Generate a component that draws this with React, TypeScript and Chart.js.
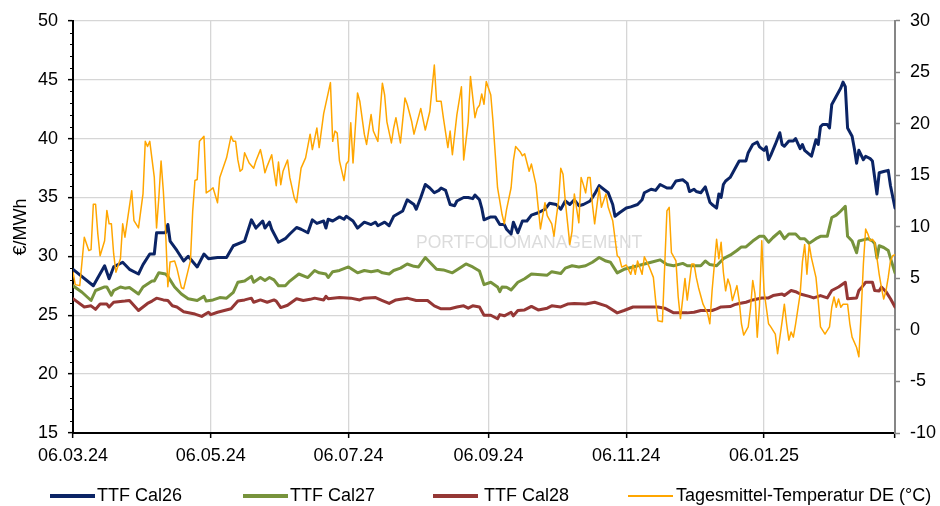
import React, { useEffect, useRef } from "react";
import { Chart, registerables } from "chart.js";

Chart.register(...registerables);

// x axis: day offset from 06.03.24
const xTickDays = [0, 61, 122, 184, 245, 306, 364];
const xTickLabels = ["06.03.24", "06.05.24", "06.07.24", "06.09.24", "06.11.24", "06.01.25", ""];

const seriesNames = ["TTF Cal26", "TTF Cal27", "TTF Cal28", "Tagesmittel-Temperatur DE (°C)"];

const cal26Days = [
  0, 9, 14, 16, 18, 22, 25, 29, 31, 34,
  36, 37, 41, 42, 43, 46, 49, 51, 55, 58,
  60, 64, 68, 71, 76, 79, 81, 84, 85, 87,
  88, 91, 94, 96, 99, 101, 104, 106, 108, 111,
  112, 113, 115, 118, 120, 121, 124, 126, 129, 132,
  134, 135, 138, 140, 142, 146, 148, 151, 152, 154,
  156, 158, 160, 162, 163, 165, 167, 169, 170, 173,
  175, 177, 178, 180, 181, 182, 185, 187, 189, 191,
  192, 194, 195, 197, 199, 201, 203, 206, 209, 211,
  214, 216, 218, 220, 222, 224, 226, 229, 231, 233,
  235, 237, 239, 240, 242, 245, 247, 250, 252, 253,
  256, 258, 260, 263, 265, 267, 270, 272, 273, 275,
  276, 278, 280, 282, 283, 285, 286, 287, 288, 289,
  291, 293, 295, 298, 299, 301, 303, 304, 306, 307,
  308, 309, 311, 313, 314, 315, 317, 319, 320, 322,
  323, 324, 327, 329, 330, 331, 332, 334, 335, 336,
  338, 340, 341, 342, 343, 345, 346, 347, 348, 350,
  351, 353, 354, 355, 356, 357, 359, 361, 362, 364,
];
const cal26Values = [
  28.9, 27.5, 29.2, 28.1, 29.1, 29.5, 28.9, 28.5, 29.3, 30.2,
  30.2, 32.0, 32.0, 32.7, 31.3, 30.5, 29.6, 30.0, 29.1, 30.2,
  29.8, 29.9, 29.9, 30.9, 31.3, 33.1, 32.4, 33.0, 32.4, 32.9,
  32.3, 31.2, 31.5, 31.9, 32.45, 32.3, 32.0, 33.1, 32.8, 33.0,
  32.4, 33.15, 33.0, 33.35, 33.15, 33.4, 33.0, 32.4, 32.9, 32.7,
  32.9, 32.6, 32.9, 32.6, 33.4, 33.85, 34.8, 34.4, 34.0, 35.0,
  36.1, 35.8, 35.4, 35.6, 35.8, 35.6, 34.4, 34.3, 34.7, 35.0,
  35.0, 34.9, 35.2, 34.8, 34.1, 33.1, 33.35, 33.35, 32.7, 32.7,
  32.3, 31.9, 32.9, 32.0, 33.0, 33.0, 33.5, 33.7, 34.0, 34.5,
  34.4, 34.0, 34.7, 34.4, 34.8, 34.3, 34.4, 34.7, 35.3, 36.0,
  35.7, 35.4, 34.4, 33.4, 33.7, 34.1, 34.2, 34.4, 34.8, 35.4,
  35.7, 35.6, 36.1, 35.8, 35.8, 36.4, 36.5, 36.2, 35.5, 35.7,
  35.5, 35.4, 35.9, 34.6, 34.4, 34.1, 35.3, 35.0, 36.1, 36.4,
  36.7, 37.4, 38.1, 38.1, 38.8, 39.5, 39.7, 39.3, 39.0, 39.3,
  38.2, 38.6, 39.5, 40.5, 39.5, 39.35, 39.8, 39.8, 40.0, 39.15,
  39.5, 39.0, 38.5, 39.9, 39.5, 41.0, 41.2, 41.2, 40.9, 42.9,
  43.6, 44.3, 44.8, 44.4, 40.9, 40.2, 39.15, 37.9, 39.0, 38.2,
  38.5, 38.3, 38.1, 36.7, 35.3, 37.1, 37.2, 37.3, 36.0, 34.1,
];

const cal27Days = [
  0, 4, 8, 10, 14, 15, 17, 18, 21, 23,
  25, 29, 31, 35, 36, 38, 41, 42, 45, 48,
  51, 55, 58, 59, 62, 65, 68, 71, 73, 76,
  79, 80, 83, 85, 87, 89, 91, 94, 96, 100,
  104, 107, 109, 112, 113, 115, 118, 122, 126, 129,
  132, 135, 137, 140, 142, 145, 148, 151, 153, 156,
  158, 161, 164, 168, 172, 174, 177, 180, 182, 185,
  188, 189, 190, 192, 194, 197, 200, 203, 210, 212,
  216, 218, 221, 224, 227, 230, 233, 236, 238, 241,
  244, 248, 253, 256, 260, 263, 266, 270, 272, 274,
  278, 280, 282, 285, 288, 291, 294, 296, 298, 301,
  304, 306, 308, 310, 313, 315, 317, 320, 322, 324,
  326, 329, 331, 334, 336, 338, 340, 342, 343, 345,
  347, 348, 350, 352, 354, 355, 356, 357, 359, 361,
  362, 364,
];
const cal27Values = [
  27.5, 26.95, 26.25, 27.1, 27.4, 27.4, 26.7, 27.1, 27.4, 27.3,
  27.35, 26.8, 27.4, 27.9, 27.9, 28.6, 28.5, 28.3, 27.4, 26.8,
  26.4, 26.25, 26.6, 26.2, 26.3, 26.5, 26.45, 26.95, 27.8, 27.9,
  28.3, 27.8, 28.2, 27.95, 28.2, 28.0, 27.5, 27.5, 27.9, 28.5,
  28.2, 28.8, 28.6, 28.5, 28.2, 28.7, 28.8, 29.1, 28.6, 28.8,
  28.7, 28.8, 28.6, 28.5, 28.8, 29.0, 29.35, 29.15, 29.1, 29.9,
  29.5, 28.9, 28.85, 28.6, 29.1, 29.35, 29.1, 28.75, 27.6, 27.8,
  27.4, 27.0, 27.4, 27.37, 27.15, 27.8, 28.1, 28.5, 28.4, 28.7,
  28.55, 29.0, 29.2, 29.1, 29.2, 29.5, 29.9, 29.6, 29.5, 28.6,
  28.9, 29.1, 29.35, 29.5, 29.7, 29.3, 29.2, 29.4, 29.2, 29.2,
  29.2, 29.6, 29.3, 29.2, 29.8, 30.1, 30.5, 30.8, 30.8, 31.3,
  31.7, 31.7, 31.2, 31.6, 32.1, 31.5, 31.9, 31.9, 31.5, 31.5,
  31.1, 31.5, 31.7, 31.7, 33.3, 33.5, 33.85, 34.25, 31.7, 31.3,
  30.3, 31.3, 31.4, 31.5, 31.3, 31.1, 29.85, 30.9, 30.75, 30.5,
  29.85, 28.6,
];

const cal28Days = [
  0, 5, 8, 10, 12, 15, 16, 18, 23, 25,
  29, 33, 35, 37, 40, 42, 44, 46, 49, 54,
  57, 60, 61, 64, 70, 73, 76, 79, 80, 83,
  86, 89, 90, 92, 95, 99, 102, 105, 107, 111,
  112, 113, 118, 123, 127, 129, 134, 137, 140, 143,
  148, 152, 157, 160, 163, 167, 170, 173, 175, 177,
  180, 182, 185, 188, 189, 191, 194, 195, 197, 200,
  203, 206, 210, 212, 216, 219, 222, 227, 231, 236,
  241, 244, 248, 253, 259, 262, 266, 272, 275, 278,
  283, 285, 287, 291, 293, 295, 298, 301, 305, 308,
  310, 314, 315, 318, 320, 322, 326, 328, 331, 334,
  336, 339, 342, 343, 347, 348, 349, 351, 354, 355,
  357, 358, 360, 362, 364,
];
const cal28Values = [
  26.4, 25.7, 25.8, 25.5, 25.95, 25.95, 25.7, 26.1, 26.2, 26.25,
  25.4, 26.0, 26.2, 26.45, 26.3, 26.25, 25.8, 25.7, 25.3, 25.1,
  24.9, 25.25, 25.05, 25.25, 25.55, 26.2, 26.3, 26.45, 26.1, 26.3,
  26.1, 26.3, 26.2, 25.65, 25.85, 26.4, 26.25, 26.35, 26.45, 26.3,
  26.6, 26.4, 26.5, 26.45, 26.3, 26.45, 26.5, 26.25, 26.0, 26.3,
  26.45, 26.25, 26.25, 25.8, 25.55, 25.55, 25.7, 25.8, 25.6, 25.8,
  25.7, 25.0, 25.0, 24.7, 25.05, 24.95, 25.25, 24.95, 25.4, 25.45,
  25.75, 25.45, 25.6, 25.8, 25.7, 25.95, 26.0, 25.95, 26.1, 25.8,
  25.2, 25.4, 25.7, 25.7, 25.7, 25.6, 25.2, 25.2, 25.25, 25.4,
  25.4, 25.54, 25.7, 25.74, 25.9, 26.0, 26.1, 26.3, 26.47, 26.47,
  26.67, 26.8, 26.67, 27.1, 27.0, 26.8, 26.6, 26.47, 26.67, 26.47,
  27.1, 27.4, 27.8, 26.4, 26.47, 27.1, 27.3, 27.8, 27.8, 27.1,
  27.05, 27.4, 27.0, 26.4, 25.7,
];

const tempDays = [
  0, 1, 3, 5, 7, 8, 9, 10, 11, 12,
  14, 15, 16, 17, 18, 19, 21, 22, 23, 26,
  27, 29, 31, 32, 33, 34, 36, 37, 38, 39,
  40, 41, 42, 43, 45, 46, 48, 49, 51, 52,
  53, 54, 55, 56, 58, 59, 61, 62, 64, 65,
  68, 70, 71, 72, 73, 74, 75, 76, 78, 80,
  81, 83, 84, 85, 86, 88, 89, 90, 91, 92,
  93, 95, 96, 98, 99, 101, 103, 105, 106, 108,
  109, 111, 114, 115, 116, 117, 118, 120, 121, 122,
  123, 124, 126, 127, 129, 130, 132, 133, 135, 137,
  138, 139, 141, 142, 143, 145, 147, 148, 150, 151,
  154, 156, 158, 160, 161, 163, 164, 166, 167, 168,
  170, 172, 173, 175, 176, 178, 179, 180, 181, 182,
  183, 185, 186, 187, 188, 190, 191, 192, 194, 195,
  196, 198, 199, 200, 202, 203, 205, 206, 207, 209,
  210, 212, 213, 214, 215, 216, 217, 218, 220, 221,
  222, 224, 225, 226, 227, 228, 229, 230, 231, 233,
  234, 236, 237, 239, 241, 242, 243, 245, 247, 248,
  249, 250, 252, 253, 255, 257, 258, 259, 261, 262,
  263, 264, 265, 267, 268, 269, 271, 272, 274, 275,
  276, 277, 279, 281, 282, 283, 284, 285, 286, 287,
  288, 289, 290, 291, 292, 294, 295, 296, 297, 299,
  300, 301, 302, 303, 304, 305, 306, 308, 309, 311,
  312, 314, 315, 316, 317, 318, 319, 320, 322, 323,
  324, 325, 326, 327, 329, 330, 331, 333, 335, 336,
  337, 338, 339, 340, 341, 343, 344, 345, 347, 348,
  349, 350, 351, 352, 353, 354, 355, 356, 357, 358,
  359, 360, 361, 362, 363, 364,
];
const tempValues = [
  5.6, 4.4, 4.3, 9.0, 7.7, 7.8, 12.2, 12.2, 9.3, 7.2,
  8.65, 11.6, 10.3, 10.3, 7.4, 5.6, 6.9, 10.3, 9.0, 13.5,
  10.6, 9.9, 13.2, 18.3, 17.8, 18.3, 14.8, 9.9, 12.8, 16.4,
  13.5, 9.6, 4.2, 6.6, 6.7, 6.0, 4.1, 4.0, 5.8, 6.7,
  11.5, 14.5, 14.6, 18.3, 18.8, 13.3, 13.6, 13.8, 12.35, 14.8,
  16.7, 18.8, 18.3, 18.3, 16.5, 15.4, 15.6, 17.2, 16.2, 15.7,
  16.4, 17.5, 16.5, 15.25, 15.9, 17.0, 15.4, 14.0, 16.3, 14.1,
  15.4, 16.5, 14.8, 12.8, 12.35, 15.7, 16.7, 19.0, 17.5, 19.6,
  17.7, 21.0, 24.0, 18.3, 19.3, 19.1, 16.4, 14.5, 16.1, 16.4,
  20.1, 16.2, 23.0, 22.2, 19.0, 18.0, 20.9, 19.3, 18.3, 23.95,
  22.8, 20.2, 18.15, 19.6, 20.6, 18.15, 22.5, 21.9, 20.2, 19.0,
  21.5, 19.4, 21.2, 25.7, 22.2, 22.2, 20.6, 17.7, 19.3, 17.0,
  20.9, 23.6, 16.5, 20.2, 24.6, 20.6, 21.5, 21.8, 22.9, 21.9,
  24.1, 22.8, 20.2, 17.0, 13.8, 11.2, 10.3, 11.7, 13.8, 16.4,
  17.8, 17.3, 16.9, 17.1, 15.4, 16.1, 14.1, 11.9, 9.8, 12.35,
  11.1, 10.3, 9.1, 10.9, 12.5, 15.7, 15.1, 12.5, 8.3, 9.6,
  13.2, 10.4, 14.8, 14.1, 13.3, 14.8, 14.8, 12.2, 10.3, 13.8,
  11.9, 13.2, 11.9, 10.6, 7.2, 7.0, 6.1, 6.3, 5.4, 6.3,
  5.4, 6.7, 5.4, 7.1, 6.2, 5.1, 2.85, 0.9, 0.8, 6.1,
  11.55, 11.9, 7.5, 6.7, 3.2, 1.1, 5.0, 2.9, 6.4, 6.4,
  5.1, 4.1, 2.5, 1.6, 0.6, 3.8, 6.3, 8.8, 6.9, 8.5,
  5.6, 3.8, 4.95, 4.3, 2.85, 4.3, 2.85, 0.6, -0.5, 0.3,
  2.05, 4.8, 3.5, -0.7, 2.4, 8.65, 3.8, 0.6, 0.3, -0.4,
  -2.3, 0.8, 2.5, 0.6, -1.0, -0.2, -0.7, 0.6, 3.5, 6.6,
  8.3, 5.4, 8.3, 7.0, 5.1, 2.85, 0.3, -0.4, 0.3, 2.2,
  3.2, 2.2, 3.0, 2.2, 2.5, 2.5, 0.6, -0.7, -1.7, -2.6,
  1.6, 6.4, 9.8, 9.3, 8.65, 8.8, 8.5, 7.0, 5.4, 4.1,
  3.0, 3.8, 5.1, 6.7, 7.2, 7.3,
];

const FONT = '"Liberation Sans", Arial, sans-serif';
const COLORS = ["#0b2465", "#77933c", "#953735", "#ffa600"];

const toPoints = (days: number[], values: number[]) =>
  days.map((d, i) => ({ x: d, y: values[i] }));

const decorPlugin = {
  id: "decor",
  beforeDatasetsDraw(chart: any) {
    const ctx = chart.ctx;
    ctx.save();
    ctx.fillStyle = "#dcdcdc";
    ctx.font = `17.5px ${FONT}`;
    ctx.textBaseline = "middle";
    ctx.textAlign = "left";
    ctx.fillText("PORTFOLIOMANAGEMENT", 416, 243);
    ctx.restore();
  },
  afterDraw(chart: any) {
    const ctx = chart.ctx;
    const y = chart.scales.y;
    ctx.save();
    ctx.strokeStyle = "#000";
    ctx.lineWidth = 1;
    for (let v = 15; v <= 50; v++) {
      if (v % 5 === 0) continue;
      const py = Math.round(y.getPixelForValue(v)) + 0.5;
      ctx.beginPath();
      ctx.moveTo(y.right - 3, py);
      ctx.lineTo(y.right, py);
      ctx.stroke();
    }
    ctx.restore();
  },
};

const legendItems = [
  { line: 50, text: 97, width: 4, color: COLORS[0], label: seriesNames[0] },
  { line: 243, text: 290, width: 4, color: COLORS[1], label: seriesNames[1] },
  { line: 433, text: 484, width: 4, color: COLORS[2], label: seriesNames[2] },
  { line: 628, text: 676, width: 2, color: COLORS[3], label: seriesNames[3] },
];

export default function App() {
  const canvasRef = useRef<HTMLCanvasElement | null>(null);

  useEffect(() => {
    if (!canvasRef.current) return;
    Chart.defaults.font.family = FONT;
    Chart.defaults.font.size = 18;
    Chart.defaults.color = "#000";
    const chart = new Chart(canvasRef.current, {
      type: "line",
      data: {
        datasets: [
          {
            label: seriesNames[3],
            data: toPoints(tempDays, tempValues),
            borderColor: COLORS[3],
            backgroundColor: COLORS[3],
            borderWidth: 1.5,
            pointRadius: 0,
            tension: 0,
            yAxisID: "y1",
            order: 0,
          },
          {
            label: seriesNames[0],
            data: toPoints(cal26Days, cal26Values),
            borderColor: COLORS[0],
            backgroundColor: COLORS[0],
            borderWidth: 3,
            pointRadius: 0,
            tension: 0,
            yAxisID: "y",
            order: 1,
          },
          {
            label: seriesNames[1],
            data: toPoints(cal27Days, cal27Values),
            borderColor: COLORS[1],
            backgroundColor: COLORS[1],
            borderWidth: 3,
            pointRadius: 0,
            tension: 0,
            yAxisID: "y",
            order: 2,
          },
          {
            label: seriesNames[2],
            data: toPoints(cal28Days, cal28Values),
            borderColor: COLORS[2],
            backgroundColor: COLORS[2],
            borderWidth: 3,
            pointRadius: 0,
            tension: 0,
            yAxisID: "y",
            order: 3,
          },
        ],
      },
      options: {
        animation: false,
        responsive: false,
        devicePixelRatio: 1,
        layout: { padding: { top: 19, left: 0, right: 0, bottom: 0 } },
        plugins: { legend: { display: false }, tooltip: { enabled: false } },
        elements: { line: { borderJoinStyle: "round", borderCapStyle: "round" } },
        scales: {
          x: {
            type: "linear",
            min: 0,
            max: 364,
            afterBuildTicks: (scale: any) => {
              scale.ticks = xTickDays.map((v) => ({ value: v }));
            },
            afterFit: (scale: any) => {
              scale.height = 73;
            },
            ticks: {
              autoSkip: false,
              maxRotation: 0,
              padding: 7,
              callback: (_v: any, i: number) => xTickLabels[i],
              font: { size: 18, family: FONT },
              color: "#000",
            },
            grid: {
              color: "#d6d6d6",
              lineWidth: 1.3,
              tickLength: 5,
              tickColor: "#000",
              tickWidth: 1.5,
            },
            border: { color: "#000", width: 2 },
          },
          y: {
            type: "linear",
            position: "left",
            min: 15,
            max: 50,
            afterFit: (scale: any) => {
              scale.width = 73;
            },
            ticks: { stepSize: 5, padding: 10, font: { size: 18, family: FONT }, color: "#000" },
            grid: { color: "#d6d6d6", lineWidth: 1.3, tickLength: 5, tickColor: "#000", tickWidth: 1.5 },
            border: { color: "#000", width: 2 },
            title: {
              display: true,
              text: "€/MWh",
              font: { size: 18, family: FONT },
              color: "#000",
              padding: { top: 10, bottom: 0 },
            },
          },
          y1: {
            type: "linear",
            position: "right",
            min: -10,
            max: 30,
            afterFit: (scale: any) => {
              scale.width = 45;
            },
            ticks: { stepSize: 5, padding: 10, font: { size: 18, family: FONT }, color: "#000" },
            grid: { drawOnChartArea: false, tickLength: 5, tickColor: "#868686", tickWidth: 1.5 },
            border: { color: "#868686", width: 2 },
          },
        },
      },
      plugins: [decorPlugin],
    } as any);
    return () => chart.destroy();
  }, []);

  return (
    <div style={{ position: "absolute", left: 0, top: 0, width: 940, height: 506, background: "#fff" }}>
      <canvas ref={canvasRef} width={940} height={506} style={{ width: 940, height: 506, display: "block" }} />
      {legendItems.map((it) => (
        <React.Fragment key={it.label}>
          <div
            style={{
              position: "absolute",
              left: it.line,
              top: 495.5 - it.width / 2,
              width: 45,
              height: it.width,
              background: it.color,
            }}
          />
          <div
            style={{
              position: "absolute",
              left: it.text,
              top: 485,
              height: 20,
              lineHeight: "20px",
              fontFamily: FONT,
              fontSize: 18,
              color: "#000",
              whiteSpace: "nowrap",
            }}
          >
            {it.label}
          </div>
        </React.Fragment>
      ))}
    </div>
  );
}
